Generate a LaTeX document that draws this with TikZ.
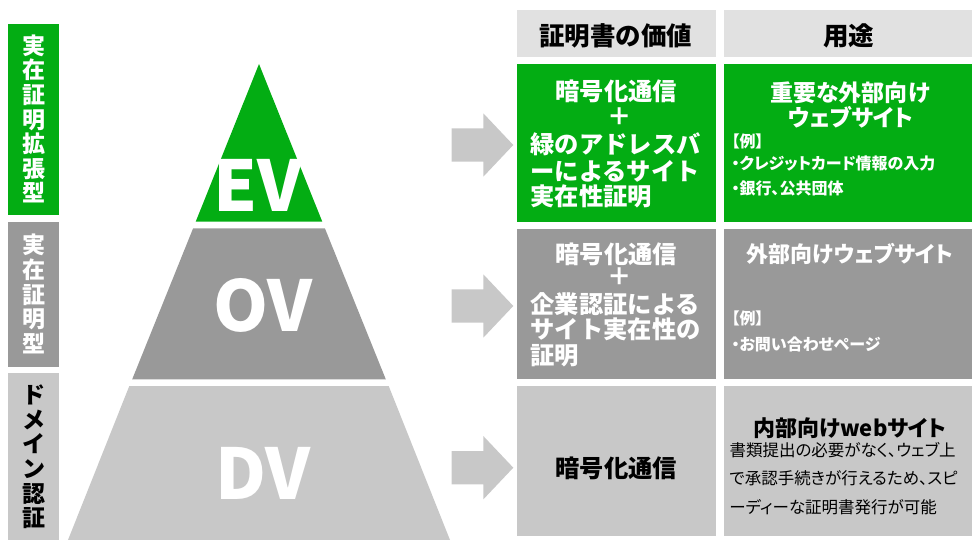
\documentclass[tikz,border=0pt]{standalone}
\usepackage{fontspec}
\setmainfont{Noto Sans CJK JP}
\newfontfamily\jpp{Noto Sans CJK JP}[RawFeature=+palt]
\definecolor{evgreen}{RGB}{3,173,19}
\definecolor{ovgray}{RGB}{153,153,153}
\definecolor{dvgray}{RGB}{200,200,200}
\definecolor{headgray}{RGB}{225,225,225}
\definecolor{arrowgray}{RGB}{200,200,200}
\begin{document}
\begin{tikzpicture}[x=1pt,y=-1pt,
  every node/.style={inner sep=0pt,outer sep=0pt},
  bigv/.style={font=\fontsize{70}{70}\selectfont\bfseries,text=white,anchor=base},
  sidelabel/.style={font=\fontsize{23}{24.6}\selectfont\bfseries,align=center},
  headtxt/.style={font=\fontsize{25.5}{26}\selectfont\bfseries,text=black},
  valtxt/.style={font=\fontsize{24.3}{26}\selectfont\bfseries},
  usetitle/.style={font=\jpp\fontsize{23}{26}\selectfont\bfseries},
  usesmall/.style={font=\jpp\fontsize{16}{20}\selectfont\bfseries,anchor=west},
  usebody/.style={font=\jpp\fontsize{16.5}{20}\selectfont,anchor=west,text=black},
  blockarrow/.style={fill=arrowgray}
]
\useasboundingbox (0,0) rectangle (972,540);
\clip (0,0) rectangle (972,540);
% left side labels
\fill[evgreen] (8,24.3) rectangle (59,214.7);
\fill[ovgray] (8,221.7) rectangle (59,367.3);
\fill[dvgray] (8,373.3) rectangle (59,545);
\node[sidelabel,text=white] (sev) at (33.5,119) {実\\在\\証\\明\\拡\\張\\型};
\node[sidelabel,text=white] (sov) at (33.5,294) {実\\在\\証\\明\\型};
\node[sidelabel,text=black,anchor=north] (sdv) at (33.5,385) {ド\\メ\\イ\\ン\\認\\証};
% pyramid
\fill[evgreen] (259,64) -- (322.3,221.7) -- (195.7,221.7) -- cycle;
\fill[ovgray] (193.1,228.3) -- (324.9,228.3) -- (385.8,379.3) -- (132.2,379.3) -- cycle;
\fill[dvgray] (129.3,386) -- (388.7,386) -- (452,545) -- (66,545) -- cycle;
\node[bigv] (ev) at (258,211.7) {EV};
\node[bigv] (ov) at (263,331.7) {OV};
\node[bigv] (dv) at (263,499.3) {DV};
% arrows
\foreach \cy/\nm in {145/a1,306/a2,467.7/a3}{
  \fill[blockarrow] (451.7,\cy-16.7) -- (483.3,\cy-16.7) -- (483.3,\cy-31.7) -- (513.3,\cy)
    -- (483.3,\cy+31.7) -- (483.3,\cy+16.7) -- (451.7,\cy+16.7) -- cycle;
}
% table cells
\fill[headgray] (516.7,10.5) rectangle (716,56.7);
\fill[headgray] (724,10.5) rectangle (975,56.7);
\fill[evgreen] (516.7,64) rectangle (716,221.7);
\fill[evgreen] (724,64) rectangle (975,221.7);
\fill[ovgray] (516.7,229) rectangle (716,379.3);
\fill[ovgray] (724,229) rectangle (975,379.3);
\fill[dvgray] (516.7,386) rectangle (716,535.5);
\fill[dvgray] (724,386) rectangle (975,535.5);
% headers
\node[headtxt] (h1) at (615.8,36) {証明書の価値};
\node[headtxt] (h2) at (848.7,36) {用途};
% EV row
\node[valtxt,text=white] (e1) at (616.3,91) {暗号化通信};
\node[valtxt,text=white] (e2) at (619.5,117) {＋};
\node[valtxt,text=white,anchor=west] (e3) at (530.5,144) {緑のアドレスバ};
\node[valtxt,text=white,anchor=west] (e4) at (530.5,171) {ーによるサイト};
\node[valtxt,text=white,anchor=west] (e5) at (530.5,196) {実在性証明};
\node[usetitle,text=white] (u1) at (850.3,92.5) {重要な外部向け};
\node[usetitle,text=white] (u2) at (850.5,117.5) {ウェブサイト};
\node[usesmall,text=white] (u3) at (731.5,141) {【例】};
\node[usesmall,text=white] (u4) at (731.5,163) {・クレジットカード情報の入力};
\node[usesmall,text=white] (u5) at (731.5,188) {・銀行、公共団体};
% OV row
\node[valtxt,text=white] (o1) at (616.3,254) {暗号化通信};
\node[valtxt,text=white] (o2) at (619.5,277) {＋};
\node[valtxt,text=white,anchor=west] (o3) at (530.5,304) {企業認証による};
\node[valtxt,text=white,anchor=west] (o4) at (530.5,329.5) {サイト実在性の};
\node[valtxt,text=white,anchor=west] (o5) at (530.5,356) {証明};
\node[usetitle,text=white,font=\jpp\fontsize{22}{26}\selectfont\bfseries] (v1) at (850,254) {外部向けウェブサイト};
\node[usesmall,text=white] (v2) at (731.5,318.7) {【例】};
\node[usesmall,text=white] (v3) at (731.5,344) {・お問い合わせページ};
% DV row
\node[valtxt,text=black] (d1) at (616.3,468) {暗号化通信};
\node[usetitle,text=black,font=\jpp\fontsize{22}{26}\selectfont\bfseries] (w1) at (850,428) {内部向けwebサイト};
\node[usebody] (w2) at (729.5,450) {書類提出の必要がなく、ウェブ上};
\node[usebody] (w3) at (729.5,478) {で承認手続きが行えるため、スピ};
\node[usebody] (w4) at (729.5,506.7) {ーディーな証明書発行が可能};
\end{tikzpicture}
\end{document}
